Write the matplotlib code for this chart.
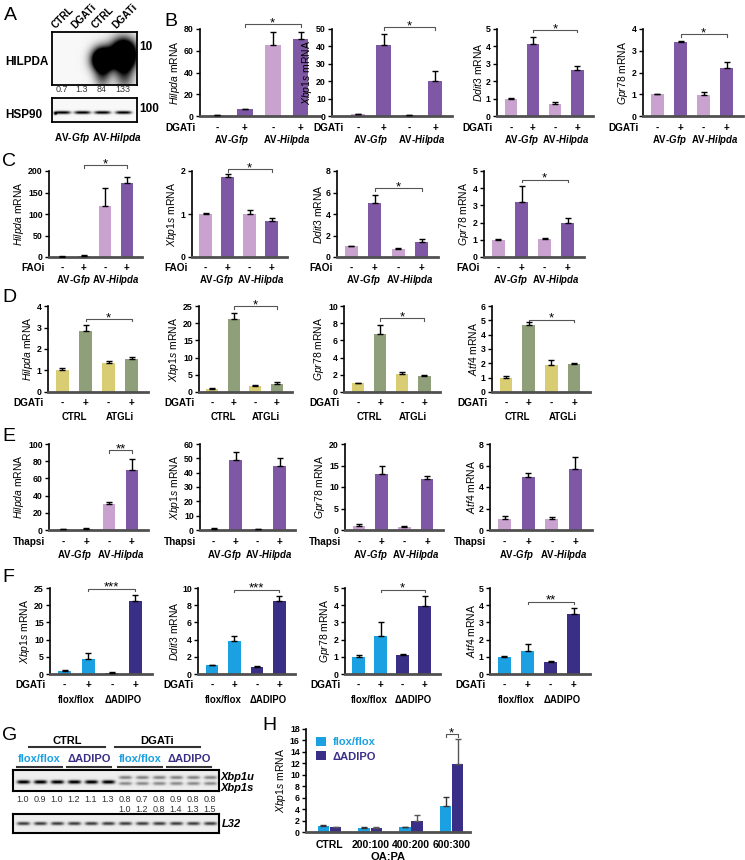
import numpy as np
import matplotlib
matplotlib.use('Agg')
import matplotlib.pyplot as plt
from matplotlib.lines import Line2D

plt.rcParams['font.family'] = ['Liberation Sans', 'DejaVu Sans']
plt.rcParams['mathtext.fontset'] = 'custom'
plt.rcParams['mathtext.it'] = 'Liberation Sans:italic'
plt.rcParams['mathtext.rm'] = 'Liberation Sans'
plt.rcParams['mathtext.bf'] = 'Liberation Sans:bold'
plt.rcParams['mathtext.bfit'] = 'Liberation Sans:italic:bold'

# ---------------- data ----------------
A_lanes = ['CTRL', 'DGATi', 'CTRL', 'DGATi']
A_quant = ['0.7', '1.3', '84', '133']

pm = ['-', '+', '-', '+']

B_genes = ['Hilpda', 'Xbp1s', 'Ddit3', 'Gpr78']
B_vals = [[1.0, 6.0, 65, 71], [1.0, 41, 0.5, 20], [1.0, 4.15, 0.7, 2.65], [1.0, 3.4, 0.95, 2.2]]
B_errs = [[0.3, 0.5, 12, 6], [0.3, 6, 0.3, 6], [0.05, 0.4, 0.1, 0.2], [0.03, 0.05, 0.15, 0.3]]
B_ymax = [80, 50, 5, 4]
B_step = [20, 10, 1, 1]
B_sig = [('*', 84.5), ('*', 51), ('*', 4.95), ('*', 3.77)]

C_genes = ['Hilpda', 'Xbp1s', 'Ddit3', 'Gpr78']
C_vals = [[1, 3, 118, 171], [1.0, 1.87, 1.0, 0.84], [1.0, 5.0, 0.7, 1.35], [1.0, 3.2, 1.05, 1.95]]
C_errs = [[0.5, 1, 43, 15], [0.02, 0.07, 0.1, 0.07], [0.05, 0.75, 0.1, 0.35], [0.03, 0.9, 0.07, 0.3]]
C_ymax = [200, 2, 8, 5]
C_step = [50, 1, 2, 1]
C_sig = [('*', 213), ('*', 2.04), ('*', 6.4), ('*', 4.5)]

D_genes = ['Hilpda', 'Xbp1s', 'Gpr78', 'Atf4']
D_vals = [[1.0, 2.85, 1.35, 1.55], [1.0, 21.3, 1.7, 2.3], [1.0, 6.7, 2.15, 1.85], [1.0, 4.65, 1.9, 1.95]]
D_errs = [[0.12, 0.25, 0.1, 0.1], [0.3, 1.7, 0.2, 0.5], [0.1, 1.1, 0.2, 0.07], [0.15, 0.25, 0.35, 0.08]]
D_ymax = [4, 25, 10, 6]
D_step = [1, 5, 2, 1]
D_sig = [('*', 3.4), ('*', 25), ('*', 8.6), ('*', 5.05)]

E_genes = ['Hilpda', 'Xbp1s', 'Gpr78', 'Atf4']
E_vals = [[1, 1.2, 30, 70], [1, 48.5, 0.5, 44.5], [1.0, 13, 0.8, 11.8], [1.0, 4.95, 1.05, 5.7]]
E_errs = [[0.5, 0.8, 3, 13], [0.3, 6, 0.2, 5.5], [0.3, 2, 0.15, 0.7], [0.3, 0.35, 0.2, 1.1]]
E_ymax = [100, 60, 20, 8]
E_step = [20, 10, 5, 2]
E_sig = ('**', 93)

F_genes = ['Xbp1s', 'Ddit3', 'Gpr78', 'Atf4']
F_vals = [[1.0, 4.5, 0.4, 21.2], [1.0, 3.8, 0.85, 8.5], [1.0, 2.2, 1.1, 3.95], [1.0, 1.35, 0.7, 3.5]]
F_errs = [[0.3, 1.6, 0.15, 1.8], [0.05, 0.6, 0.08, 0.6], [0.12, 0.8, 0.07, 0.6], [0.05, 0.4, 0.03, 0.35]]
F_ymax = [25, 10, 5, 5]
F_step = [5, 2, 1, 1]
F_sig = [('***', 24.8), ('***', 9.8), ('*', 4.9), ('**', 4.2)]

G_groups = ['CTRL', 'DGATi']
G_sub = ['flox/flox', '\u0394ADIPO', 'flox/flox', '\u0394ADIPO']
G_row1 = ['1.0', '0.9', '1.0', '1.2', '1.1', '1.3', '0.8', '0.7', '0.8', '0.9', '0.8', '0.8']
G_row2 = ['1.0', '1.2', '0.8', '1.4', '1.3', '1.5']

H_cats = ['CTRL', '200:100', '400:200', '600:300']
H_flox = [1.1, 0.7, 0.85, 4.5]
H_flox_err = [0.1, 0.1, 0.1, 1.7]
H_adipo = [0.8, 0.75, 1.9, 11.8]
H_adipo_err = [0.05, 0.05, 1.0, 4.5]

# ---------------- styling ----------------
P_LIGHT, P_DARK = '#C9A2CF', '#7F58A5'
Y_LIGHT, G_DARK = '#D8CD73', '#8E9F7A'
B_LIGHT, B_DARK = '#1BA1E2', '#3A2F86'

W, H = 745, 860
fig = plt.figure(figsize=(W / 100, H / 100), dpi=100)


def R(x0, y0, x1, y1):
    return [x0 / W, 1 - y1 / H, (x1 - x0) / W, (y1 - y0) / H]


def ftext(x, y, s, **kw):
    fig.text(x / W, 1 - y / H, s, **kw)


def fline(x0, x1, y, **kw):
    fig.add_artist(Line2D([x0 / W, x1 / W], [1 - y / H, 1 - y / H], **kw))


def style_axes(ax):
    for s in ['top', 'right']:
        ax.spines[s].set_visible(False)
    ax.spines['left'].set_linewidth(1.2)
    ax.spines['bottom'].set_linewidth(2.0)
    ax.spines['bottom'].set_color('#505050')
    ax.tick_params(axis='y', direction='out', length=3, width=1, pad=1.5, labelsize=6.3)
    ax.set_xticks([])
    for lab in ax.get_yticklabels():
        lab.set_fontweight('bold')


def bracket(ax, i, j, y, label, ymax):
    h = 0.03 * ymax
    ax.plot([i, i, j, j], [y - h, y, y, y - h], color='#555555', lw=0.8, clip_on=False)
    ax.annotate(label, xy=((i + j) / 2, y), xytext=(0, -1.5), textcoords='offset points',
                ha='center', va='baseline', fontsize=9.5, annotation_clip=False)


def bar_panel(box, vals, errs, colors, ymax, step, gene, treat, groups, sig=None, sig_pair=(1, 3),
              offs=(12, 24), xlim=(-0.62, 3.7), treat_dx=-4):
    x0, x1, top, zero = box
    ax = fig.add_axes(R(x0, top, x1, zero))
    xs = np.arange(len(vals))
    ax.bar(xs, vals, width=0.56, color=colors, zorder=2)
    ax.errorbar(xs, vals, yerr=[np.zeros(len(vals)), errs], fmt='none', ecolor='black',
                elinewidth=1.0, capsize=2.2, capthick=1.0, zorder=3)
    ax.set_xlim(*xlim)
    ax.set_ylim(0, ymax)
    ticks = np.arange(0, ymax + step / 2, step)
    ax.set_yticks(ticks)
    ax.set_yticklabels([f'{int(t)}' for t in ticks])
    style_axes(ax)
    ax.set_ylabel(r'$\mathit{%s}$ mRNA' % gene, fontsize=7.5, labelpad=1.5)
    for i, t in enumerate(pm):
        ax.annotate(t, xy=(i, 0), xycoords=('data', 'axes fraction'), xytext=(0, -offs[0] * 0.72),
                    textcoords='offset points', ha='center', va='center', fontsize=7.2, fontweight='bold')
    ax.annotate(treat, xy=(0, 0), xycoords='axes fraction', xytext=(treat_dx * 0.72, -offs[0] * 0.72),
                textcoords='offset points', ha='right', va='center', fontsize=7.2, fontweight='bold')
    for k, g in enumerate(groups):
        ax.annotate(g, xy=(2 * k + 0.5, 0), xycoords=('data', 'axes fraction'),
                    xytext=(0, -offs[1] * 0.72), textcoords='offset points', ha='center',
                    va='center', fontsize=6.9, fontweight='bold')
    if sig is not None:
        bracket(ax, sig_pair[0], sig_pair[1], sig[1], sig[0], ymax)
    return ax


AV = ['AV-$\\mathbfit{Gfp}$', 'AV-$\\mathbfit{Hilpda}$']

# ---------------- panel letters ----------------
for lab, x, y in [('A', 4, 15), ('B', 164, 21), ('C', 2, 161), ('D', 2, 298), ('E', 2, 437),
                  ('F', 2, 578), ('G', 2, 736), ('H', 262, 725)]:
    ftext(x, y, lab, fontsize=14, ha='left', va='center')

# ---------------- panel A (blot) ----------------
def blot_img(h, w, spots, bg=0.97):
    yy, xx = np.mgrid[0:h, 0:w]
    img = np.full((h, w), bg)
    for cx, cy, sx, sy, amp, p in spots:
        img -= amp * np.exp(-(np.abs((xx - cx) / sx) ** p + ((yy - cy) / sy) ** 2))
    return np.clip(img, 0, 1)


lanesA = [62, 82, 102, 123]
axA1 = fig.add_axes(R(52, 32, 137, 85))
spots = [(50, 27, 10, 11, 2.4, 2), (71, 22, 12, 14, 2.6, 2), (50, 44, 8, 12, 0.55, 2), (72, 44, 9, 14, 0.55, 2)]
axA1.imshow(blot_img(53, 85, spots), cmap='gray', vmin=0, vmax=1, aspect='auto', interpolation='bilinear')
axA2 = fig.add_axes(R(52, 98, 137, 122))
spots = [(x - 52, 14, 8, 1.6, 0.95, 4) for x in lanesA] + [(3, 15, 1.5, 1.5, 0.9, 2)]
axA2.imshow(blot_img(24, 85, spots), cmap='gray', vmin=0, vmax=1, aspect='auto', interpolation='bilinear')
for ax in (axA1, axA2):
    ax.set_xticks([]); ax.set_yticks([])
    for s in ax.spines.values():
        s.set_linewidth(1.3)
for x, lab in zip(lanesA, A_lanes):
    ftext(x - 5, 30, lab, rotation=45, rotation_mode='anchor', ha='left', va='bottom',
          fontsize=7.2, fontweight='bold')
for x, q in zip(lanesA, A_quant):
    ftext(x, 90, q, ha='center', va='center', fontsize=6.5, color='#333333')
ftext(5, 62, 'HILPDA', ha='left', va='center', fontsize=8.5, fontweight='bold')
ftext(5, 115, 'HSP90', ha='left', va='center', fontsize=8.5, fontweight='bold')
ftext(139, 47, '10', ha='left', va='center', fontsize=8.5, fontweight='bold')
ftext(139, 109, '100', ha='left', va='center', fontsize=8.5, fontweight='bold')
ftext(72, 138, AV[0], ha='center', va='center', fontsize=7.2, fontweight='bold')
ftext(117, 138, AV[1], ha='center', va='center', fontsize=7.2, fontweight='bold')

# ---------------- rows B-F ----------------
pc = [P_LIGHT, P_DARK, P_LIGHT, P_DARK]
B_box = [(200, 320, 29, 116), (332, 452, 29, 116), (497, 593, 29, 116), (643, 743, 29, 116)]
for k in range(4):
    if k == 1:
        bar_panel(B_box[k], B_vals[k], B_errs[k], pc, B_ymax[k], B_step[k], B_genes[k], 'DGATi', AV,
                  B_sig[k], xlim=(-1.0, 3.65), treat_dx=12)
    else:
        bar_panel(B_box[k], B_vals[k], B_errs[k], pc, B_ymax[k], B_step[k], B_genes[k], 'DGATi', AV,
                  B_sig[k])

C_box = [(49, 142, 171, 257), (192, 287, 171, 257), (337, 438, 171, 257), (484, 584, 171, 257)]
for k in range(4):
    bar_panel(C_box[k], C_vals[k], C_errs[k], pc, C_ymax[k], C_step[k], C_genes[k], 'FAOi', AV, C_sig[k],
              offs=(11, 23))

dc = [Y_LIGHT, G_DARK, Y_LIGHT, G_DARK]
D_box = [(48, 148, 306, 392), (199, 292, 306, 392), (344, 440, 306, 392), (492, 590, 306, 392)]
for k in range(4):
    bar_panel(D_box[k], D_vals[k], D_errs[k], dc, D_ymax[k], D_step[k], D_genes[k], 'DGATi',
              ['CTRL', 'ATGLi'], D_sig[k], offs=(11, 25))

E_box = [(49, 148, 444, 530), (200, 295, 444, 530), (345, 443, 444, 530), (490, 592, 444, 530)]
for k in range(4):
    ax = bar_panel(E_box[k], E_vals[k], E_errs[k], pc, E_ymax[k], E_step[k], E_genes[k], 'Thapsi', AV,
                   offs=(12, 25))
    if k == 0:
        bracket(ax, 2, 3, E_sig[1], E_sig[0], E_ymax[k])

fc = [B_LIGHT, B_LIGHT, B_DARK, B_DARK]
F_box = [(50, 152, 588, 674), (198, 295, 588, 674), (345, 440, 588, 674), (490, 590, 588, 674)]
for k in range(4):
    bar_panel(F_box[k], F_vals[k], F_errs[k], fc, F_ymax[k], F_step[k], F_genes[k], 'DGATi',
              G_sub[:2], F_sig[k], offs=(11, 26))

# ---------------- panel G (blot) ----------------
lanesG = [23 + 17 * i for i in range(12)]
ftext(67, 741, G_groups[0], ha='center', va='center', fontsize=8, fontweight='bold')
ftext(157, 741, G_groups[1], ha='center', va='center', fontsize=8, fontweight='bold')
fline(29, 105, 747, color='#333333', lw=1.5)
fline(115, 200, 747, color='#333333', lw=1.5)
sub_c = [B_LIGHT, B_DARK, B_LIGHT, B_DARK]
sub_span = [(17, 62), (67, 111), (118, 162), (167, 211)]
for (a, b), s, c in zip(sub_span, G_sub, sub_c):
    ftext((a + b) / 2, 759, s, ha='center', va='center', fontsize=8, fontweight='bold', color=c)
    fline(a, b, 767, color='#333333', lw=1.5)
axG1 = fig.add_axes(R(13, 770, 219, 791))
spots = []
for i, x in enumerate(lanesG):
    cx = x - 13
    if i < 6:
        spots.append((cx, 11.5, 6.5, 1.9, 0.95, 4))
    else:
        spots.append((cx, 7, 6.5, 1.8, 0.42, 4))
        spots.append((cx, 13, 6.5, 1.8, 0.38, 4))
axG1.imshow(blot_img(21, 206, spots, bg=0.93), cmap='gray', vmin=0, vmax=1, aspect='auto', interpolation='bilinear')
axG2 = fig.add_axes(R(13, 814, 219, 833))
spots = [(x - 13, 9.5, 6.5, 1.5, 0.75, 4) for x in lanesG]
axG2.imshow(blot_img(19, 206, spots, bg=0.93), cmap='gray', vmin=0, vmax=1, aspect='auto', interpolation='bilinear')
for ax in (axG1, axG2):
    ax.set_xticks([]); ax.set_yticks([])
    for s in ax.spines.values():
        s.set_linewidth(1.5)
ftext(221, 777, 'Xbp1u', ha='left', va='center', fontsize=8, fontweight='bold', style='italic')
ftext(221, 788, 'Xbp1s', ha='left', va='center', fontsize=8, fontweight='bold', style='italic')
ftext(222, 824, 'L32', ha='left', va='center', fontsize=8, fontweight='bold', style='italic')
for x, q in zip(lanesG, G_row1):
    ftext(x, 800, q, ha='center', va='center', fontsize=6.5, color='#333333')
for x, q in zip(lanesG[6:], G_row2):
    ftext(x, 810, q, ha='center', va='center', fontsize=6.5, color='#333333')

# ---------------- panel H ----------------
axH = fig.add_axes(R(306, 729, 470, 832))
xs = np.arange(len(H_cats))
bw = 0.28
b1 = axH.bar(xs - 0.15, H_flox, width=bw, color=B_LIGHT, zorder=2, label='flox/flox')
b2 = axH.bar(xs + 0.15, H_adipo, width=bw, color=B_DARK, zorder=2, label='\u0394ADIPO')
axH.errorbar(xs - 0.15, H_flox, yerr=[np.zeros(4), H_flox_err], fmt='none', ecolor='#333333',
             elinewidth=1.0, capsize=2.2, capthick=1.0, zorder=3)
axH.errorbar(xs + 0.15, H_adipo, yerr=[np.zeros(4), H_adipo_err], fmt='none', ecolor='#555555',
             elinewidth=1.0, capsize=2.2, capthick=1.0, zorder=3)
axH.set_xlim(-0.58, 3.45)
axH.set_ylim(0, 18)
axH.set_yticks(np.arange(0, 19, 2))
axH.set_yticklabels([str(t) for t in range(0, 19, 2)])
style_axes(axH)
axH.set_xticks(xs)
axH.set_xticklabels(H_cats, fontsize=7.5, fontweight='bold')
axH.tick_params(axis='x', length=0, pad=6)
axH.set_xlabel('OA:PA', fontsize=8, fontweight='bold', labelpad=1)
axH.set_ylabel(r'$\mathit{Xbp1s}$ mRNA', fontsize=7.5, labelpad=1.5)
leg = axH.legend(handles=[b1, b2], loc='upper left', bbox_to_anchor=(0.0, 1.02), frameon=False,
                 handlelength=0.9, handleheight=0.9, handletextpad=0.6, labelspacing=0.35,
                 prop={'weight': 'bold', 'size': 8})
for t, c in zip(leg.get_texts(), [B_LIGHT, B_DARK]):
    t.set_color(c)
bracket(axH, 3 - 0.15, 3 + 0.15, 17.1, '*', 18)

fig.savefig('out.png', dpi=100)
